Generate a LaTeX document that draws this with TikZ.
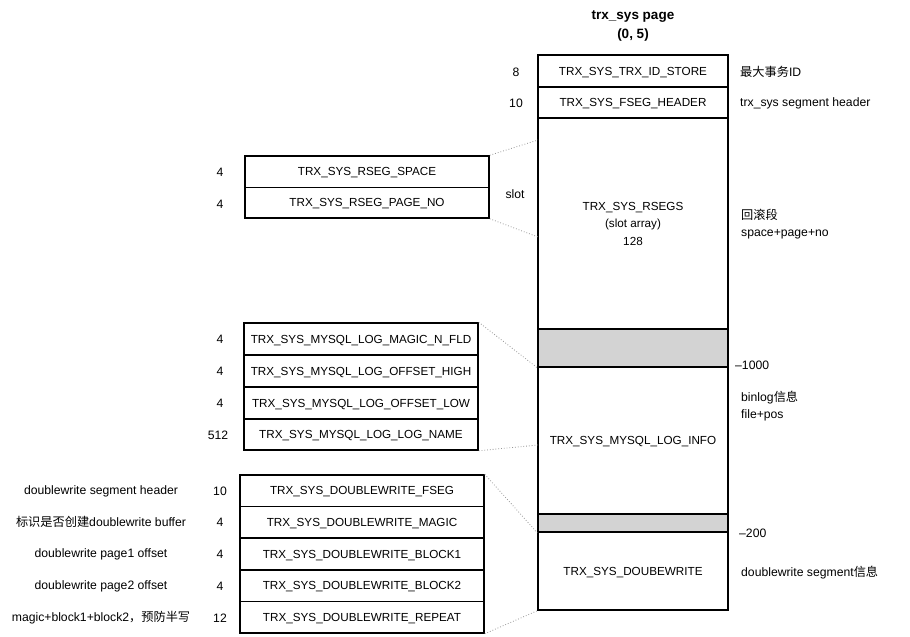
\documentclass[tikz,border=0pt]{standalone}
\usepackage{fontspec}
\setmainfont{Liberation Sans}
\newfontfamily\cjk{Noto Sans CJK SC}
\definecolor{bandgray}{RGB}{211,211,211}
\definecolor{dotgray}{RGB}{150,150,150}
\begin{document}
\begin{tikzpicture}[x=1pt,y=-1pt,
  field/.style={draw, line width=1.5pt, inner sep=0pt, align=center,
    text height=8.4pt, text depth=0pt,
    font=\fontsize{11.7}{17.5}\selectfont},
  band/.style={field, fill=bandgray},
  note/.style={font=\fontsize{12.2}{17.5}\selectfont, inner sep=0pt, align=left},
  title/.style={font=\fontsize{13.5}{19}\selectfont\bfseries, inner sep=0pt, align=center},
  zoomline/.style={dotgray, dotted, line width=0.8pt}]
\useasboundingbox (0,0) rectangle (910,637);

% title
\node[title] (ttl) at (633,26) {trx\_sys page\\(0, 5)};

% main column
\node[field, minimum width=190pt, minimum height=32pt] (idstore) at (633,71) {TRX\_SYS\_TRX\_ID\_STORE};
\node[field, minimum width=190pt, minimum height=31pt] (fseghdr) at (633,102.5) {TRX\_SYS\_FSEG\_HEADER};
\node[field, minimum width=190pt, minimum height=211pt, text height=43.4pt] (rsegs) at (633,223.5) {TRX\_SYS\_RSEGS\\(slot array)\\128};
\node[band, minimum width=190pt, minimum height=38pt] (gray1) at (633,348) {};
\node[field, minimum width=190pt, minimum height=147pt] (loginfo) at (633,440.5) {TRX\_SYS\_MYSQL\_LOG\_INFO};
\node[band, minimum width=190pt, minimum height=18pt] (gray2) at (633,523) {};
\node[field, minimum width=190pt, minimum height=78pt] (dblwr) at (633,571) {TRX\_SYS\_DOUBEWRITE};

% main column sizes and notes
\node[note] (n8) at (516,72) {8};
\node[note] (n10) at (516,103) {10};
\node[note, anchor=west] (a1) at (740,72) {{\cjk 最大事务}ID};
\node[note, anchor=west] (a2) at (740,103) {trx\_sys segment header};
\node[note, anchor=west] (a3) at (741,224) {{\cjk 回滚段}\\space+page+no};
\node[note, anchor=west] (a4) at (735,365) {–1000};
\node[note, anchor=west] (a5) at (741,406) {binlog{\cjk 信息}\\file+pos};
\node[note, anchor=west] (a6) at (739,533) {–200};
\node[note, anchor=west] (a7) at (741,573) {doublewrite segment{\cjk 信息}};

% rollback segment slot
\node[field, minimum width=244pt, minimum height=31.5pt] (rspace) at (367,171.75) {TRX\_SYS\_RSEG\_SPACE};
\node[field, minimum width=244pt, minimum height=30.5pt] (rpage) at (367,202.75) {TRX\_SYS\_RSEG\_PAGE\_NO};
\node[note] (s1) at (220,172) {4};
\node[note] (s2) at (220,204) {4};
\node[note] (slot) at (515,194) {slot};

% mysql log info
\node[field, minimum width=234pt, minimum height=32pt] (m1) at (361,339) {TRX\_SYS\_MYSQL\_LOG\_MAGIC\_N\_FLD};
\node[field, minimum width=234pt, minimum height=32pt] (m2) at (361,371) {TRX\_SYS\_MYSQL\_LOG\_OFFSET\_HIGH};
\node[field, minimum width=234pt, minimum height=32pt] (m3) at (361,403) {TRX\_SYS\_MYSQL\_LOG\_OFFSET\_LOW};
\node[field, minimum width=234pt, minimum height=31pt] (m4) at (361,434.5) {TRX\_SYS\_MYSQL\_LOG\_LOG\_NAME};
\node[note] (ms1) at (220,339) {4};
\node[note] (ms2) at (220,371) {4};
\node[note] (ms3) at (220,403) {4};
\node[note] (ms4) at (218,435) {512};

% doublewrite
\node[field, minimum width=244pt, minimum height=31.5pt] (d1) at (362,490.75) {TRX\_SYS\_DOUBLEWRITE\_FSEG};
\node[field, minimum width=244pt, minimum height=31.5pt] (d2) at (362,522.25) {TRX\_SYS\_DOUBLEWRITE\_MAGIC};
\node[field, minimum width=244pt, minimum height=32pt] (d3) at (362,554) {TRX\_SYS\_DOUBLEWRITE\_BLOCK1};
\node[field, minimum width=244pt, minimum height=31.5pt] (d4) at (362,585.75) {TRX\_SYS\_DOUBLEWRITE\_BLOCK2};
\node[field, minimum width=244pt, minimum height=31.5pt] (d5) at (362,617.25) {TRX\_SYS\_DOUBLEWRITE\_REPEAT};
\node[note] (ds1) at (220,491) {10};
\node[note] (ds2) at (220,522) {4};
\node[note] (ds3) at (220,554) {4};
\node[note] (ds4) at (220,586) {4};
\node[note] (ds5) at (220,618) {12};
\node[note] (dd1) at (101,491) {doublewrite segment header};
\node[note] (dd2) at (101,522) {{\cjk 标识是否创建}doublewrite buffer};
\node[note] (dd3) at (101,554) {doublewrite page1 offset};
\node[note] (dd4) at (101,586) {doublewrite page2 offset};
\node[note] (dd5) at (101,618) {magic+block1+block2{\cjk ，预防半写}};

% zoom lines
\coordinate (rtop) at (538,140);
\coordinate (rbot) at (538,237);
\coordinate (lbot) at (538,445);
\draw[zoomline] (rspace.north east) -- (rtop);
\draw[zoomline] (rpage.south east) -- (rbot);
\draw[zoomline] (m1.north east) -- (gray1.south west);
\draw[zoomline] (m4.south east) -- (lbot);
\draw[zoomline] (d1.north east) -- (gray2.south west);
\draw[zoomline] (d5.south east) -- (dblwr.south west);
\end{tikzpicture}
\end{document}
